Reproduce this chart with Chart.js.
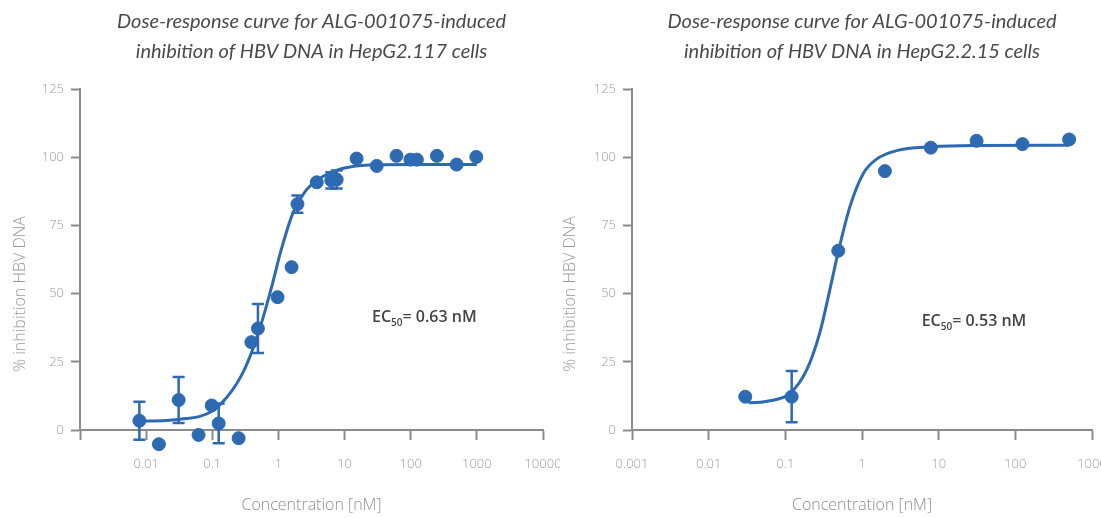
<!DOCTYPE html>
<html>
<head>
<meta charset="utf-8">
<title>ALG-001075 dose-response curves</title>
<script src="https://cdn.jsdelivr.net/npm/chart.js@4.4.0/dist/chart.umd.min.js"></script>
<style>
    body { margin: 0; background: #fff; }
    #chart117 { position: absolute; left: 0; top: 0; }
    #chart215 { position: absolute; left: 560px; top: 0; }
</style>
</head>
<body>
<canvas id="chart117" width="560" height="518"></canvas>
<canvas id="chart215" width="541" height="518"></canvas>
<script>
// HepG2.117 cells - measured points
var conc117  = [0.0079, 0.0156, 0.031, 0.062, 0.098, 0.125, 0.25, 0.39, 0.49, 0.97, 1.58, 1.94, 3.8, 6.3, 7.6, 15.2, 30.6, 61, 99, 124, 249, 495, 981];
var inhib117 = [3.4, -5.2, 11, -1.8, 9, 2.4, -3, 32.2, 37.2, 48.7, 59.7, 82.8, 90.8, 91.5, 91.8, 99.5, 96.8, 100.5, 99.1, 99.1, 100.5, 97.3, 100.1];
var err117   = [7, 0, 8.4, 0, 0, 7.3, 0, 0, 9, 0, 0, 3.2, 0, 3, 3.3, 0, 0, 0, 0, 0, 0, 0, 0];

// HepG2.117 fitted curve
var fitX117 = [0.0075, 0.02, 0.04, 0.065, 0.1, 0.13, 0.2, 0.28, 0.37, 0.55, 0.79, 1.1, 1.65, 2.65, 4.2, 7.5, 12, 30, 100, 1000];
var fitY117 = [3.3, 3.5, 4.2, 5, 7, 9.2, 14.5, 20.3, 26.8, 39, 52.5, 66, 79.4, 88, 92.2, 95.2, 96.4, 97.2, 97.3, 97.3];

// HepG2.2.15 cells - measured points
var conc215  = [0.030, 0.121, 0.49, 1.99, 7.9, 31.2, 124, 503];
var inhib215 = [12.2, 12.2, 65.7, 94.9, 103.5, 106, 104.8, 106.5];
var err215   = [0, 9.4, 0, 0, 0, 0, 0, 0];

// HepG2.2.15 fitted curve
var fitX215 = [0.0297, 0.0345, 0.063, 0.115, 0.19, 0.28, 0.38, 0.49, 0.695, 1.04, 1.55, 2.82, 8, 30, 500];
var fitY215 = [11.6, 10.0, 10.7, 13.4, 22, 35.4, 51.3, 65.3, 81.8, 94, 99.3, 102.4, 103.8, 104.3, 104.4];

// axis ticks
var xTicks117  = [0.001, 0.01, 0.1, 1, 10, 100, 1000, 10000];
var xLabels117 = ['', '0.01', '0.1', '1', '10', '100', '1000', '10000'];
var xTicks215  = [0.001, 0.01, 0.1, 1, 10, 100, 1000];
var xLabels215 = ['0.001', '0.01', '0.1', '1', '10', '100', '1000'];
var yTicks     = [0, 25, 50, 75, 100, 125];

var title117 = ['Dose-response curve for ALG-001075-induced', 'inhibition of HBV DNA in HepG2.117 cells'];
var title215 = ['Dose-response curve for ALG-001075-induced', 'inhibition of HBV DNA in HepG2.2.15 cells'];
var ec50_117 = '0.63';
var ec50_215 = '0.53';

var blue = '#2d6ab2';
var axisGrey = '#8c8c8c';
var labelGrey = '#9a9a9a';

// error bars, y axis title and the EC50 note
var extrasPlugin = {
    id: 'extras',
    beforeDatasetsDraw: function (chart) {
        // let points that sit just under the 0 line still be drawn
        chart._realArea = chart.chartArea;
        chart.chartArea = Object.assign({}, chart.chartArea, { bottom: chart.chartArea.bottom + 30 });
    },
    afterDatasetsDraw: function (chart, args, opts) {
        chart.chartArea = chart._realArea;
        var ctx = chart.ctx;
        var xs = chart.scales.x, ys = chart.scales.y;
        ctx.save();
        ctx.strokeStyle = blue;
        ctx.lineWidth = 2.5;
        opts.conc.forEach(function (c, i) {
            var e = opts.err[i];
            if (!e) return;
            var px = xs.getPixelForValue(c);
            var top = ys.getPixelForValue(opts.inhib[i] + e);
            var bot = ys.getPixelForValue(opts.inhib[i] - e);
            ctx.beginPath();
            ctx.moveTo(px, top); ctx.lineTo(px, bot);
            ctx.moveTo(px - 6, top); ctx.lineTo(px + 6, top);
            ctx.moveTo(px - 6, bot); ctx.lineTo(px + 6, bot);
            ctx.stroke();
        });
        ctx.restore();
    },
    afterDraw: function (chart, args, opts) {
        var ctx = chart.ctx;
        var xs = chart.scales.x, ys = chart.scales.y;
        ctx.save();
        // y title
        ctx.translate(opts.yTitleX, opts.yTitleY);
        ctx.rotate(-Math.PI / 2);
        ctx.font = '300 16px "Open Sans"';
        ctx.fillStyle = labelGrey;
        ctx.textAlign = 'center';
        ctx.textBaseline = 'middle';
        ctx.fillText('% inhibition HBV DNA', 0, 0);
        ctx.restore();

        // EC50 note
        ctx.save();
        var x = xs.getPixelForValue(opts.noteAt[0]);
        var y = ys.getPixelForValue(opts.noteAt[1]);
        ctx.fillStyle = '#444';
        ctx.textBaseline = 'alphabetic';
        ctx.textAlign = 'left';
        ctx.font = '600 16px "Open Sans"';
        ctx.fillText('EC', x, y);
        x += ctx.measureText('EC').width;
        ctx.font = '600 10px "Open Sans"';
        ctx.fillText('50', x, y + 4);
        x += ctx.measureText('50').width;
        ctx.font = '600 16px "Open Sans"';
        ctx.fillText('= ' + opts.ec50 + ' nM', x, y);
        ctx.restore();
    }
};

function makeChart(id, d) {
    var ctx = document.getElementById(id).getContext('2d');
    return new Chart(ctx, {
        type: 'scatter',
        data: {
            datasets: [{
                label: 'measured',
                data: d.conc.map(function (c, i) { return { x: c, y: d.inhib[i] }; }),
                backgroundColor: blue,
                borderColor: blue,
                pointRadius: 6.5,
                pointHoverRadius: 6.5,
                clip: false,
                order: 0
            }, {
                label: 'fit',
                type: 'line',
                data: d.fitX.map(function (c, i) { return { x: c, y: d.fitY[i] }; }),
                borderColor: blue,
                borderWidth: 3,
                pointRadius: 0,
                fill: false,
                cubicInterpolationMode: 'monotone',
                clip: false,
                order: 1
            }]
        },
        options: {
            responsive: false,
            animation: false,
            layout: { padding: { left: 0, right: d.padRight, top: 0, bottom: 0 } },
            plugins: {
                legend: { display: false },
                tooltip: { enabled: false },
                title: {
                    display: true,
                    fullSize: false,
                    text: d.title,
                    color: '#4a4a4a',
                    font: { family: 'Lato', size: 20, style: 'italic', weight: 400, lineHeight: 1.5 },
                    padding: { top: 7, bottom: 22 }
                },
                extras: {
                    conc: d.conc, inhib: d.inhib, err: d.err,
                    yTitleX: d.yTitleX, yTitleY: 294,
                    noteAt: d.noteAt, ec50: d.ec50
                }
            },
            scales: {
                x: {
                    type: 'logarithmic',
                    min: d.xTicks[0],
                    max: d.xTicks[d.xTicks.length - 1],
                    border: { color: axisGrey, width: 2 },
                    grid: { drawOnChartArea: false, drawTicks: true, tickLength: 10, tickColor: axisGrey, tickWidth: 2 },
                    ticks: {
                        autoSkip: false,
                        maxRotation: 0,
                        padding: 16,
                        color: labelGrey,
                        font: { family: 'Open Sans', size: 13, weight: 300 },
                        callback: function (value, index) { return d.xLabels[index]; }
                    },
                    title: {
                        display: true,
                        text: 'Concentration [nM]',
                        color: '#8f8f8f',
                        font: { family: 'Open Sans', size: 16, weight: 300 },
                        padding: { top: 4, bottom: 3 }
                    },
                    afterBuildTicks: function (scale) {
                        scale.ticks = d.xTicks.map(function (v) { return { value: v }; });
                    },
                    afterFit: function (scale) {
                        scale.height = 88;
                        scale.paddingLeft = 0;
                        scale.paddingRight = 0;
                    }
                },
                y: {
                    min: 0,
                    max: 125,
                    border: { color: axisGrey, width: 2 },
                    grid: { drawOnChartArea: false, drawTicks: true, tickLength: 9, tickColor: axisGrey, tickWidth: 2 },
                    ticks: {
                        stepSize: 25,
                        padding: 7,
                        color: labelGrey,
                        font: { family: 'Open Sans', size: 13, weight: 300 }
                    },
                    afterBuildTicks: function (scale) {
                        scale.ticks = yTicks.map(function (v) { return { value: v }; });
                    },
                    afterFit: function (scale) {
                        scale.width = d.yWidth;
                    }
                }
            }
        },
        plugins: [extrasPlugin]
    });
}

makeChart('chart117', {
    conc: conc117, inhib: inhib117, err: err117,
    fitX: fitX117, fitY: fitY117,
    xTicks: xTicks117, xLabels: xLabels117,
    title: title117, ec50: ec50_117,
    yWidth: 80, padRight: 17, yTitleX: 20,
    noteAt: [26, 39.5]
});

makeChart('chart215', {
    conc: conc215, inhib: inhib215, err: err215,
    fitX: fitX215, fitY: fitY215,
    xTicks: xTicks215, xLabels: xLabels215,
    title: title215, ec50: ec50_215,
    yWidth: 72, padRight: 9, yTitleX: 10,
    noteAt: [6, 38]
});
</script>
</body>
</html>
